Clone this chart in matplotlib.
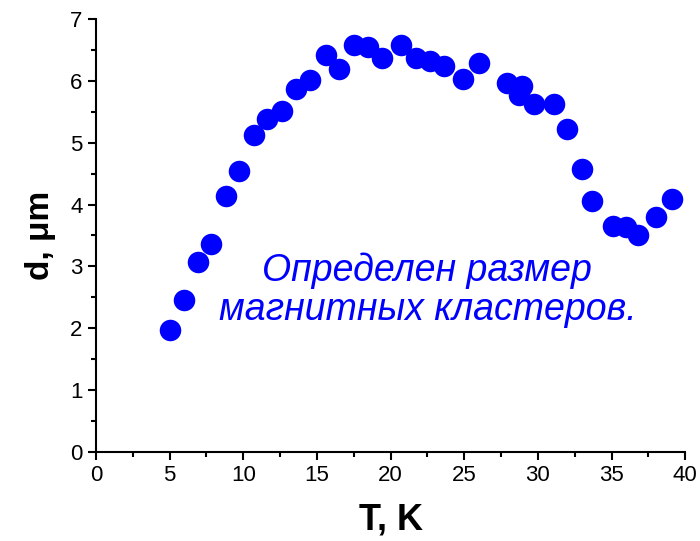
import numpy as np
import matplotlib.pyplot as plt
from matplotlib.ticker import MultipleLocator

plt.rcParams['font.family'] = ['Liberation Sans', 'DejaVu Sans']

# temperature, K
T = [5.0, 6.0, 6.9, 7.8, 8.8, 9.7, 10.7, 11.6, 12.6, 13.6, 14.5, 15.6, 16.5,
     17.5, 18.5, 19.4, 20.7, 21.7, 22.7, 23.6, 24.9, 26.0, 27.9, 28.9, 28.7,
     29.7, 31.1, 32.0, 33.0, 33.7, 35.1, 36.0, 36.8, 38.0, 39.1]
# cluster size, um
d = [1.97, 2.46, 3.07, 3.36, 4.14, 4.54, 5.12, 5.38, 5.51, 5.87, 6.01, 6.42, 6.19,
     6.58, 6.55, 6.37, 6.58, 6.37, 6.32, 6.24, 6.03, 6.29, 5.97, 5.92, 5.77,
     5.63, 5.63, 5.22, 4.57, 4.06, 3.65, 3.64, 3.51, 3.80, 4.09]

fig = plt.figure(figsize=(7, 5.41), dpi=100)
ax = fig.add_axes([0.137, 0.1645, 0.842, 0.8005])

ax.plot(T, d, 'o', color='#0000ff', markersize=15.5, markeredgewidth=0, clip_on=False)

ax.set_xlim(0, 40)
ax.set_ylim(0, 7)
ax.xaxis.set_major_locator(MultipleLocator(5))
ax.xaxis.set_minor_locator(MultipleLocator(2.5))
ax.yaxis.set_major_locator(MultipleLocator(1))
ax.yaxis.set_minor_locator(MultipleLocator(0.5))

for s in ['top', 'right']:
    ax.spines[s].set_visible(False)
for s in ['left', 'bottom']:
    ax.spines[s].set_linewidth(1.5)
ax.tick_params(which='major', direction='out', length=6, width=1.5, labelsize=16)
ax.tick_params(which='minor', direction='out', length=3.5, width=1.5)

ax.set_xlabel('T, K', fontsize=26, fontweight='bold', labelpad=12)
ax.set_ylabel('d, \u03bcm', fontsize=24, fontweight='bold', labelpad=10)

ax.text(22.5, 2.62, 'Определен размер\nмагнитных кластеров.', color='#0000ff',
        fontsize=27, style='italic', ha='center', va='center', linespacing=1.1)

fig.savefig('out.png', dpi=100)
